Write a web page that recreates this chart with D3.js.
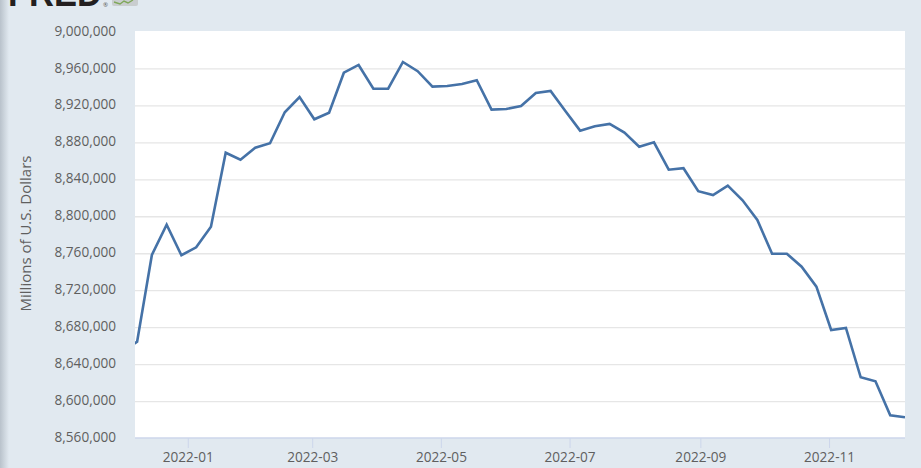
<!DOCTYPE html>
<html>
<head>
<meta charset="utf-8">
<script src="https://cdn.jsdelivr.net/npm/d3@7/dist/d3.min.js"></script>
<style>
html,body{margin:0;padding:0;background:#e1e9f0;overflow:hidden}
svg{display:block}
text{font-family:"Open Sans",sans-serif}
</style>
</head>
<body>
<svg id="chart" width="921" height="468"></svg>
<script>
const dates = ["2021-12-01","2021-12-08","2021-12-15","2021-12-22","2021-12-29","2022-01-05","2022-01-12","2022-01-19","2022-01-26","2022-02-02","2022-02-09","2022-02-16","2022-02-23","2022-03-02","2022-03-09","2022-03-16","2022-03-23","2022-03-30","2022-04-06","2022-04-13","2022-04-20","2022-04-27","2022-05-04","2022-05-11","2022-05-18","2022-05-25","2022-06-01","2022-06-08","2022-06-15","2022-06-22","2022-06-29","2022-07-06","2022-07-13","2022-07-20","2022-07-27","2022-08-03","2022-08-10","2022-08-17","2022-08-24","2022-08-31","2022-09-07","2022-09-14","2022-09-21","2022-09-28","2022-10-05","2022-10-12","2022-10-19","2022-10-26","2022-11-02","2022-11-09","2022-11-16","2022-11-23","2022-11-30","2022-12-07"];
const values = [8653000,8664200,8758100,8790900,8757800,8766400,8788700,8868800,8861300,8874300,8879000,8912600,8929100,8905000,8912100,8955400,8963800,8938100,8938100,8967000,8957000,8940300,8941000,8943200,8947200,8915400,8916100,8919400,8933500,8935600,8914000,8892700,8897400,8899900,8890500,8875300,8880100,8850400,8852000,8827100,8823000,8833100,8817300,8796000,8759500,8759500,8745400,8723800,8676900,8679100,8625700,8621400,8584600,8582400];
const yTicks = [8560000,8600000,8640000,8680000,8720000,8760000,8800000,8840000,8880000,8920000,8960000,9000000];
const xTicks = ["2022-01-01","2022-03-01","2022-05-01","2022-07-01","2022-09-01","2022-11-01"];
const yTitle = "Millions of U.S. Dollars";

const parse = d3.utcParse("%Y-%m-%d");
const L = 135, R = 905, T = 31.5, B = 438;
const svg = d3.select("#chart");
const defs = svg.append("defs");
const grad = defs.append("linearGradient").attr("id","edge");
grad.append("stop").attr("offset",0).attr("stop-color","#b9c2cb");
grad.append("stop").attr("offset",1).attr("stop-color","#e1e9f0");
defs.append("clipPath").attr("id","plot").append("rect")
  .attr("x",L).attr("y",T-0.5).attr("width",R-L).attr("height",B-T+0.5);

svg.append("rect").attr("width",921).attr("height",468).attr("fill","#e1e9f0");
svg.append("rect").attr("width",9).attr("height",468).attr("fill","url(#edge)");

// cropped site logo at the top edge
svg.append("text").attr("x",8).attr("y",6).attr("font-size",38).attr("font-weight",700)
  .attr("textLength",94).attr("lengthAdjust","spacingAndGlyphs")
  .style("font-family","'Liberation Sans',sans-serif").attr("fill","#231f20").text("FRED");
svg.append("text").attr("x",103).attr("y",6.5).attr("font-size",6).attr("fill","#555").text("®");
svg.append("rect").attr("x",112).attr("y",-4).attr("width",26).attr("height",10).attr("rx",2).attr("fill","#c9cdcf");
svg.append("path").attr("d","M114,2L120,4L124,1L128,3L133,0").attr("fill","none").attr("stroke","#7fa85a").attr("stroke-width",1.4);

const x = d3.scaleUtc().domain([parse("2021-12-07"),parse("2022-12-07")]).range([L,R]);
const y = d3.scaleLinear().domain([8560000,9000000]).range([B,T]);

svg.append("rect").attr("x",L).attr("y",T-0.5).attr("width",R-L).attr("height",B-T+0.5).attr("fill","#fff");

// y axis: gridlines and labels
const yAxis = d3.axisLeft(y).tickValues(yTicks).tickFormat(d3.format(",")).tickSize(0).tickPadding(19);
const gy = svg.append("g").attr("transform",`translate(${L},0)`).call(yAxis);
gy.select(".domain").remove();
gy.selectAll("text").attr("font-size",13.6).attr("fill","#5f5f5f").attr("dy","0.26em").style("font-family","'Open Sans',sans-serif");
gy.selectAll(".tick").filter(d=>d!==8560000 && d!==9000000).append("line")
  .attr("x1",0).attr("x2",R-L).attr("stroke","#e6e6e6").attr("stroke-width",1.3);

// x axis
const xAxis = d3.axisBottom(x).tickValues(xTicks.map(parse)).tickFormat(d3.utcFormat("%Y-%m")).tickSize(10).tickPadding(4);
const gx = svg.append("g").attr("transform",`translate(0,${B})`).call(xAxis);
gx.select(".domain").attr("d",`M${L},0H${R}`).attr("stroke","#ccd6eb").attr("stroke-width",1.5);
gx.selectAll("line").attr("stroke","#ccd6eb");
gx.selectAll("text").attr("font-size",13.6).attr("fill","#5f5f5f").style("font-family","'Open Sans',sans-serif");

const line = d3.line().x((d,i)=>x(parse(dates[i]))).y(d=>y(d));
svg.append("path").datum(values).attr("clip-path","url(#plot)").attr("d",line)
  .attr("fill","none").attr("stroke","#4572a7").attr("stroke-width",2.6).attr("stroke-linejoin","miter");

svg.append("text").attr("transform","translate(30.5,233.5) rotate(-90)").attr("text-anchor","middle")
  .attr("font-size",15).attr("fill","#5f5f5f").text(yTitle);
</script>
</body>
</html>
